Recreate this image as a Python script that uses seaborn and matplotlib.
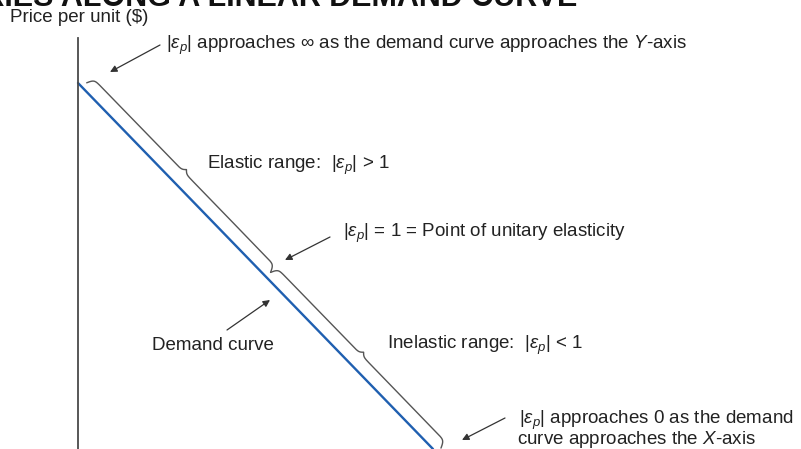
import numpy as np
import pandas as pd
import matplotlib
matplotlib.use("Agg")
import matplotlib.pyplot as plt
import seaborn as sns

# Linear demand curve P = a - b*Q
quantity = [0.0, 10.0]
price = [10.0, 0.0]
intercept = 10.0

# Brace spans along the curve, as quantity ranges
elastic_range = (0.12, 5.3)
inelastic_range = (5.3, 10.1)

title_text = "PRICE ELASTICITY VARIES ALONG A LINEAR DEMAND CURVE"
y_label = "Price per unit ($)"
eps = r"$|\varepsilon_p|$"
labels = {
    "top": eps + r" approaches $\infty$ as the demand curve approaches the $Y$-axis",
    "elastic": "Elastic range:  " + eps + r" > 1",
    "unit": eps + " = 1 = Point of unitary elasticity",
    "demand": "Demand curve",
    "inelastic": "Inelastic range:  " + eps + " < 1",
    "bottom1": eps + " approaches 0 as the demand",
    "bottom2": "curve approaches the $X$-axis",
}

sns.set_theme(style="white")
plt.rcParams["font.family"] = ["Liberation Sans", "DejaVu Sans"]
plt.rcParams["mathtext.fontset"] = "custom"
plt.rcParams["mathtext.rm"] = "Liberation Sans"
plt.rcParams["mathtext.it"] = "Liberation Sans:italic"
plt.rcParams["mathtext.bf"] = "Liberation Sans:bold"

W, H = 801, 449
fig = plt.figure(figsize=(W / 100, H / 100), dpi=100)
ax = fig.add_axes([0, 0, 1, 1])

# scale: 35.5 px per quantity unit, 36.6 px per price unit
ax.set_xlim(-78 / 35.5, (W - 78) / 35.5)
ax.set_ylim(0, H / 36.6)

df = pd.DataFrame({"Quantity": quantity, "Price": price})
sns.lineplot(data=df, x="Quantity", y="Price", ax=ax, color="#1f5fb0",
             linewidth=1.7, sort=False)


def brace(q0, q1, base=0.25, plateau=0.55, tip=0.69, beta=15.0, n=300):
    """Curly brace drawn alongside the demand curve between two quantities."""
    u0, u1 = 2 * q0 - intercept, 2 * q1 - intercept  # along-curve coordinate Q - P
    half = (u1 - u0) / 2
    x = np.linspace(0, half, n)
    s1 = 1 / (1 + np.exp(-beta * x))
    s2 = 1 / (1 + np.exp(-beta * (x - half)))
    off = base + (s1 - 0.5) * 2 * (plateau - base) + s2 * 2 * (tip - plateau)
    off = np.concatenate([off, off[-2::-1]])
    u = np.concatenate([u0 + x, u0 + half + x[1:]])
    sigma = intercept + off  # Q + P
    return (sigma + u) / 2, (sigma - u) / 2


for rng in (elastic_range, inelastic_range):
    bq, bp = brace(*rng)
    ax.plot(bq, bp, color="#555555", linewidth=1.0, solid_capstyle="round")

# price axis
ax.spines["left"].set_position(("data", 0))
ax.spines["left"].set_bounds(0, (H - 38) / 36.6)
ax.spines["left"].set_color("#4a4a4a")
ax.spines["left"].set_linewidth(1.3)
for side in ("right", "top", "bottom"):
    ax.spines[side].set_visible(False)
ax.set_xticks([])
ax.set_yticks([])
ax.set_xlabel("")
ax.set_ylabel("")

txt = dict(color="#222222", fontsize=13.5, va="center", ha="left",
           xycoords="figure pixels")


def fp(x, y):
    return (x, H - y)


def note(label, x, y):
    ax.annotate(label, xy=fp(x, y), **txt)


arrow = dict(arrowstyle="-|>", color="#333333", lw=0.9, mutation_scale=10,
             shrinkA=0, shrinkB=0)


def pointer(tail, head):
    ax.annotate("", xy=fp(*head), xytext=fp(*tail), xycoords="figure pixels",
                textcoords="figure pixels", arrowprops=arrow)


fig.text(577 / W, 1 - 6 / H, title_text, ha="right", va="baseline",
         fontsize=22, fontweight="bold", color="#111111")
note(y_label, 10, 18)

note(labels["top"], 166, 45)
pointer((160, 45), (110, 72))
note(labels["elastic"], 207, 165)
note(labels["unit"], 343, 233)
pointer((330, 237), (285, 260))
note(labels["demand"], 152, 345)
pointer((227, 330), (270, 300))
note(labels["inelastic"], 387, 345)
note(labels["bottom1"], 519, 420)
note(labels["bottom2"], 517, 440)
pointer((505, 418), (462, 440))

fig.savefig("out.png", dpi=100)
